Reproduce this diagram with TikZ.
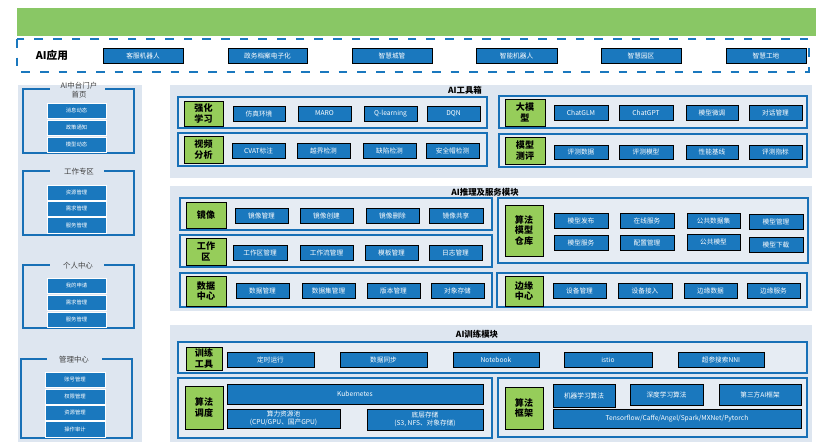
\documentclass[tikz,border=0pt]{standalone}
\usepackage{fontspec}
\setmainfont{Noto Sans CJK SC}
\definecolor{topgreen}{RGB}{137,199,101}
\definecolor{boxblue}{RGB}{26,120,190}
\definecolor{frameblue}{RGB}{24,112,182}
\definecolor{panelbg}{RGB}{222,230,240}
\definecolor{framebg}{RGB}{230,236,243}
\definecolor{taggreen}{RGB}{150,205,90}

\begin{document}
\begin{tikzpicture}[x=0.75pt,y=-0.75pt,
  item/.style={fill=boxblue},
  itemtxt/.style={text=white,font=\fontsize{5}{6}\selectfont,align=center,inner sep=0},
  sidetxt/.style={text=white,font=\fontsize{4}{5}\selectfont,inner sep=0},
  sideitem/.style={fill=boxblue,draw=white,line width=0.6pt},
  frame/.style={draw=frameblue,line width=1.6pt,fill=framebg},
  bracket/.style={draw=frameblue,line width=1.6pt},
  tag/.style={fill=taggreen},
  tagtxt/.style={font=\bfseries\fontsize{6.8}{8}\selectfont,align=center,inner sep=0},
  paneltitle/.style={font=\bfseries\fontsize{6.3}{7}\selectfont,inner sep=0},
  grouptitle/.style={font=\fontsize{5.6}{6.4}\selectfont,text=black!75,align=center,inner sep=0}]

\useasboundingbox (0,0) rectangle (816,442);

% AI应用
\fill[topgreen] (17,8) rectangle (816,36);
\draw[draw=boxblue,line width=2pt,dash pattern=on 6.5pt off 7.5pt] (17,39) rectangle (809,72);
\node[font=\bfseries\fontsize{8}{9}\selectfont] (app) at (52,55) {AI应用};
\draw[item] (103,48) rectangle (183,63) node[pos=.5,itemtxt] (app1) {客服机器人};
\draw[item] (228,48) rectangle (307,63) node[pos=.5,itemtxt] (app2) {政务档案电子化};
\draw[item] (352,48) rectangle (432,63) node[pos=.5,itemtxt] (app3) {智慧城管};
\draw[item] (476,48) rectangle (557,63) node[pos=.5,itemtxt] (app4) {智能机器人};
\draw[item] (601,48) rectangle (681,63) node[pos=.5,itemtxt] (app5) {智慧园区};
\draw[item] (726,48) rectangle (806,63) node[pos=.5,itemtxt] (app6) {智慧工地};

% left column
\fill[panelbg] (18,85) rectangle (142,442);

\draw[bracket] (105,89) -- (134,89) -- (134,153) -- (23,153) -- (23,89) -- (50,89);
\node[grouptitle] (home) at (79,90) {AI中台门户\\首页};
\draw[sideitem] (47,103) rectangle (106,118) node[pos=.5,sidetxt] (home1) {消息动态};
\draw[sideitem] (47,120) rectangle (106,135) node[pos=.5,sidetxt] (home2) {政策通知};
\draw[sideitem] (47,137) rectangle (106,152) node[pos=.5,sidetxt] (home3) {模型动态};

\draw[bracket] (104,171) -- (134,171) -- (134,235) -- (23,235) -- (23,171) -- (50,171);
\node[grouptitle] (work) at (79,172) {工作专区};
\draw[sideitem] (47,185) rectangle (106,200) node[pos=.5,sidetxt] (work1) {资源管理};
\draw[sideitem] (47,201) rectangle (106,216) node[pos=.5,sidetxt] (work2) {需求管理};
\draw[sideitem] (47,217) rectangle (106,233) node[pos=.5,sidetxt] (work3) {服务管理};

\draw[bracket] (104,265) -- (134,265) -- (134,328) -- (23,328) -- (23,265) -- (50,265);
\node[grouptitle] (user) at (78,266) {个人中心};
\draw[sideitem] (47,278) rectangle (106,293) node[pos=.5,sidetxt] (user1) {我的申请};
\draw[sideitem] (47,295) rectangle (106,310) node[pos=.5,sidetxt] (user2) {需求管理};
\draw[sideitem] (47,312) rectangle (106,327) node[pos=.5,sidetxt] (user3) {服务管理};

\draw[bracket] (102,359) -- (132,359) -- (132,438) -- (21,438) -- (21,359) -- (47,359);
\node[grouptitle] (admin) at (74,360) {管理中心};
\draw[sideitem] (45,372) rectangle (105,387) node[pos=.5,sidetxt] (admin1) {账号管理};
\draw[sideitem] (45,389) rectangle (105,404) node[pos=.5,sidetxt] (admin2) {权限管理};
\draw[sideitem] (45,405) rectangle (105,420) node[pos=.5,sidetxt] (admin3) {资源管理};
\draw[sideitem] (45,421) rectangle (105,437) node[pos=.5,sidetxt] (admin4) {操作审计};

% AI工具箱
\fill[panelbg] (170,85) rectangle (812,178);
\node[paneltitle] (tools) at (465,90) {AI工具箱};

\draw[frame] (178,97) rectangle (487,128);
\draw[tag] (184,101) rectangle (223,126) node[pos=.5,tagtxt] (rl) {强化\\学习};
\draw[item] (233,106) rectangle (285,121) node[pos=.5,itemtxt] (rl1) {仿真环境};
\draw[item] (298,106) rectangle (351,121) node[pos=.5,itemtxt] (rl2) {MARO};
\draw[item] (364,106) rectangle (417,121) node[pos=.5,itemtxt] (rl3) {Q-learning};
\draw[item] (427,106) rectangle (480,121) node[pos=.5,itemtxt] (rl4) {DQN};

\draw[frame] (178,133) rectangle (487,166);
\draw[tag] (184,136) rectangle (223,163) node[pos=.5,tagtxt] (video) {视频\\分析};
\draw[item] (232,143) rectangle (285,158) node[pos=.5,itemtxt] (video1) {CVAT标注};
\draw[item] (297,143) rectangle (350,158) node[pos=.5,itemtxt] (video2) {越界检测};
\draw[item] (363,143) rectangle (416,158) node[pos=.5,itemtxt] (video3) {缺陷检测};
\draw[item] (426,143) rectangle (479,158) node[pos=.5,itemtxt] (video4) {安全帽检测};

\draw[frame] (499,96) rectangle (807,128);
\draw[tag] (505,99) rectangle (545,126) node[pos=.5,tagtxt] (llm) {大模\\型};
\draw[item] (554,105) rectangle (608,120) node[pos=.5,itemtxt] (llm1) {ChatGLM};
\draw[item] (619,105) rectangle (673,120) node[pos=.5,itemtxt] (llm2) {ChatGPT};
\draw[item] (686,105) rectangle (738,120) node[pos=.5,itemtxt] (llm3) {模型微调};
\draw[item] (749,105) rectangle (802,120) node[pos=.5,itemtxt] (llm4) {对话管理};

\draw[frame] (499,134) rectangle (807,167);
\draw[tag] (505,137) rectangle (545,164) node[pos=.5,tagtxt] (eval) {模型\\测评};
\draw[item] (554,145) rectangle (608,159) node[pos=.5,itemtxt] (eval1) {评测数据};
\draw[item] (619,145) rectangle (673,159) node[pos=.5,itemtxt] (eval2) {评测模型};
\draw[item] (686,145) rectangle (738,159) node[pos=.5,itemtxt] (eval3) {性能基线};
\draw[item] (749,145) rectangle (802,159) node[pos=.5,itemtxt] (eval4) {评测指标};

% AI推理及服务模块
\fill[panelbg] (170,186) rectangle (812,311);
\node[paneltitle] (infer) at (485,192) {AI推理及服务模块};

\draw[frame] (180,198) rectangle (492,230);
\draw[tag] (186,202) rectangle (226,228) node[pos=.5,tagtxt] (img) {镜像};
\draw[item] (235,208) rectangle (288,223) node[pos=.5,itemtxt] (img1) {镜像管理};
\draw[item] (300,208) rectangle (353,223) node[pos=.5,itemtxt] (img2) {镜像创建};
\draw[item] (366,208) rectangle (419,223) node[pos=.5,itemtxt] (img3) {镜像删除};
\draw[item] (429,208) rectangle (483,223) node[pos=.5,itemtxt] (img4) {镜像共享};

\draw[frame] (180,235) rectangle (492,267);
\draw[tag] (186,238) rectangle (226,265) node[pos=.5,tagtxt] (ws) {工作\\区};
\draw[item] (233,245) rectangle (287,260) node[pos=.5,itemtxt] (ws1) {工作区管理};
\draw[item] (300,245) rectangle (353,260) node[pos=.5,itemtxt] (ws2) {工作流管理};
\draw[item] (365,245) rectangle (418,260) node[pos=.5,itemtxt] (ws3) {模板管理};
\draw[item] (429,245) rectangle (482,260) node[pos=.5,itemtxt] (ws4) {日志管理};

\draw[frame] (180,273) rectangle (492,307);
\draw[tag] (186,276) rectangle (226,306) node[pos=.5,tagtxt] (data) {数据\\中心};
\draw[item] (236,283) rectangle (289,298) node[pos=.5,itemtxt] (data1) {数据管理};
\draw[item] (302,283) rectangle (355,298) node[pos=.5,itemtxt] (data2) {数据集管理};
\draw[item] (367,283) rectangle (420,298) node[pos=.5,itemtxt] (data3) {版本管理};
\draw[item] (431,283) rectangle (484,298) node[pos=.5,itemtxt] (data4) {对象存储};

\draw[frame] (498,198) rectangle (808,263);
\draw[tag] (505,205) rectangle (543,256) node[pos=.5,tagtxt] (repo) {算法\\模型\\仓库};
\draw[item] (554,213) rectangle (608,228) node[pos=.5,itemtxt] (repo1) {模型发布};
\draw[item] (620,213) rectangle (674,228) node[pos=.5,itemtxt] (repo2) {在线服务};
\draw[item] (687,213) rectangle (740,228) node[pos=.5,itemtxt] (repo3) {公共数据集};
\draw[item] (749,214) rectangle (803,229) node[pos=.5,itemtxt] (repo4) {模型管理};
\draw[item] (554,235) rectangle (608,250) node[pos=.5,itemtxt] (repo5) {模型服务};
\draw[item] (620,235) rectangle (674,250) node[pos=.5,itemtxt] (repo6) {配置管理};
\draw[item] (687,234) rectangle (740,250) node[pos=.5,itemtxt] (repo7) {公共模型};
\draw[item] (749,237) rectangle (803,252) node[pos=.5,itemtxt] (repo8) {模型下载};

\draw[frame] (497,273) rectangle (807,307);
\draw[tag] (505,276) rectangle (543,306) node[pos=.5,tagtxt] (edge) {边缘\\中心};
\draw[item] (553,283) rectangle (606,298) node[pos=.5,itemtxt] (edge1) {设备管理};
\draw[item] (618,283) rectangle (672,298) node[pos=.5,itemtxt] (edge2) {设备接入};
\draw[item] (684,283) rectangle (737,298) node[pos=.5,itemtxt] (edge3) {边缘数据};
\draw[item] (747,283) rectangle (800,298) node[pos=.5,itemtxt] (edge4) {边缘服务};

% AI训练模块
\fill[panelbg] (170,325) rectangle (812,442);
\node[paneltitle] (train) at (477,334) {AI训练模块};

\draw[frame] (178,342) rectangle (807,373);
\draw[tag] (186,347) rectangle (222,370) node[pos=.5,tagtxt] (kit) {训练\\工具};
\draw[item] (227,352) rectangle (314,367) node[pos=.5,itemtxt] (kit1) {定时运行};
\draw[item] (340,352) rectangle (427,367) node[pos=.5,itemtxt] (kit2) {数据同步};
\draw[item] (453,352) rectangle (539,367) node[pos=.5,itemtxt] (kit3) {Notebook};
\draw[item] (564,352) rectangle (652,367) node[pos=.5,itemtxt] (kit4) {istio};
\draw[item] (678,352) rectangle (764,367) node[pos=.5,itemtxt] (kit5) {超参搜索NNI};

\draw[frame] (178,378) rectangle (492,438);
\draw[tag] (185,386) rectangle (223,429) node[pos=.5,tagtxt] (sched) {算法\\调度};
\draw[item] (227,384) rectangle (483,404) node[pos=.5,itemtxt] (k8s) {Kubernetes};
\draw[item] (227,409) rectangle (340,428) node[pos=.5,itemtxt] (pool) {算力资源池\\(CPU/GPU、国产GPU)};
\draw[item] (367,409) rectangle (483,430) node[pos=.5,itemtxt] (store) {底层存储\\(S3, NFS、对象存储)};

\draw[frame] (498,378) rectangle (807,437);
\draw[tag] (505,387) rectangle (543,429) node[pos=.5,tagtxt] (fw) {算法\\框架};
\draw[item] (553,384) rectangle (615,407) node[pos=.5,itemtxt] (fw1) {机器学习算法};
\draw[item] (630,384) rectangle (703,405) node[pos=.5,itemtxt] (fw2) {深度学习算法};
\draw[item] (719,384) rectangle (801,405) node[pos=.5,itemtxt] (fw3) {第三方AI框架};
\draw[item] (553,409) rectangle (801,428) node[pos=.5,itemtxt] (fw4) {Tensorflow/Caffe/Angel/Spark/MXNet/Pytorch};
\end{tikzpicture}
\end{document}
